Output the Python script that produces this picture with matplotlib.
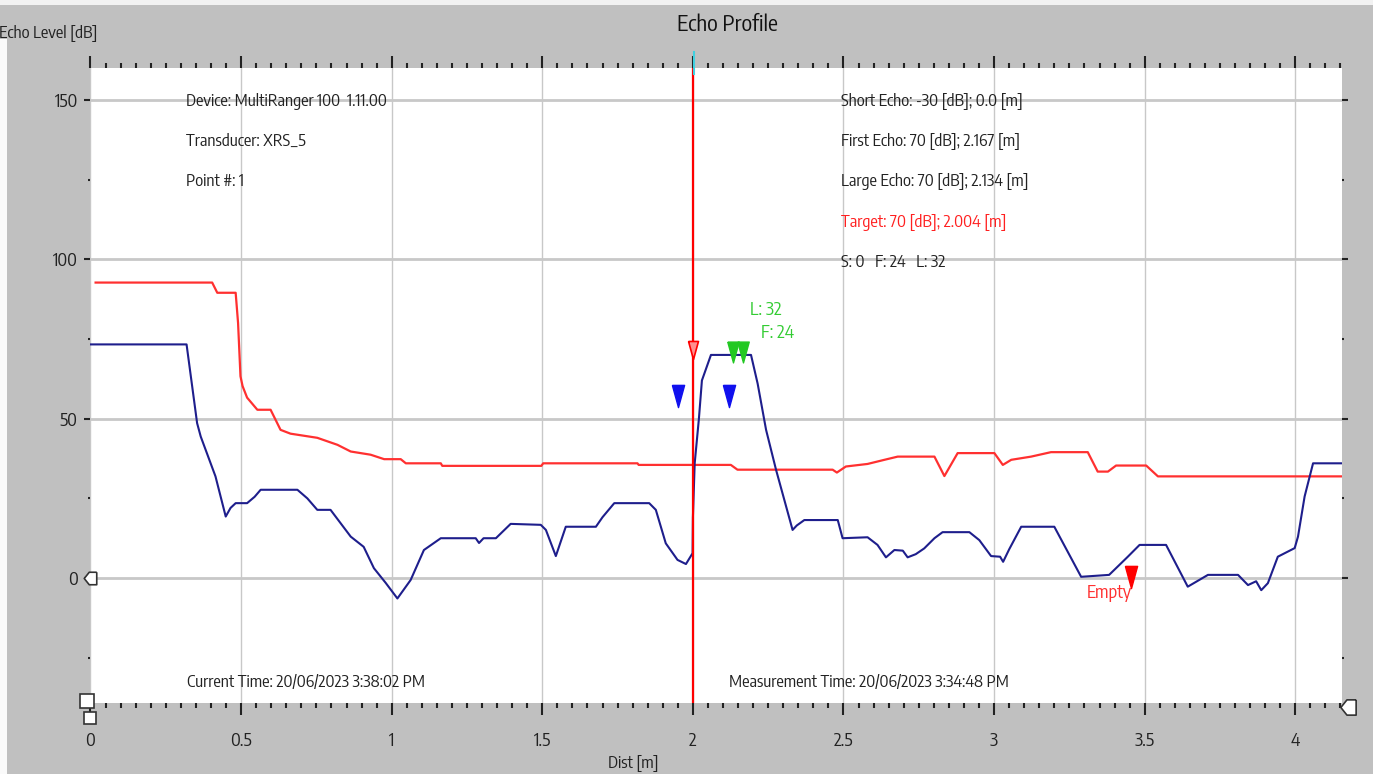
import numpy as np
import matplotlib
matplotlib.use("Agg")
import matplotlib.pyplot as plt
from matplotlib import font_manager

# echo profile (blue)
echo_dist = [0.0, 0.319, 0.354, 0.366, 0.415, 0.449, 0.465, 0.482, 0.52, 0.545,
             0.565, 0.687, 0.72, 0.753, 0.797, 0.864, 0.907, 0.941, 0.98, 1.019,
             1.063, 1.107, 1.163, 1.279, 1.29, 1.305, 1.346, 1.395, 1.495, 1.512,
             1.545, 1.578, 1.678, 1.7, 1.739, 1.855, 1.877, 1.91, 1.949, 1.977,
             1.999, 2.0, 2.006, 2.02, 2.03, 2.06, 2.193, 2.215, 2.243, 2.276,
             2.331, 2.345, 2.37, 2.481, 2.497, 2.58, 2.613, 2.641, 2.669, 2.697,
             2.713, 2.74, 2.768, 2.802, 2.829, 2.918, 2.951, 2.99, 3.02, 3.03,
             3.05, 3.09, 3.2, 3.289, 3.382, 3.444, 3.483, 3.571, 3.643, 3.71,
             3.81, 3.843, 3.87, 3.887, 3.909, 3.942, 3.998, 4.009, 4.031, 4.059,
             4.155]
echo_level = [73.3, 73.3, 48.6, 44.4, 31.9, 19.3, 22.0, 23.5, 23.5, 25.5,
              27.7, 27.7, 25.0, 21.4, 21.4, 13.0, 9.8, 3.1, -1.5, -6.4,
              -0.6, 8.8, 12.5, 12.5, 11.0, 12.5, 12.5, 17.0, 16.7, 15.1,
              6.9, 16.1, 16.1, 19.1, 23.5, 23.5, 21.4, 10.9, 5.7, 4.4,
              7.8, 18.9, 36.0, 50.0, 62.0, 70.0, 70.0, 61.0, 46.5, 34.0,
              15.1, 16.5, 18.2, 18.2, 12.5, 12.8, 10.4, 6.5, 8.8, 8.6,
              6.5, 7.5, 9.3, 12.5, 14.4, 14.4, 11.9, 6.9, 6.7, 5.1,
              9.0, 16.1, 16.1, 0.4, 1.0, 6.7, 10.4, 10.4, -2.7, 1.0,
              1.0, -2.2, -1.0, -3.8, -1.6, 6.7, 9.4, 13.0, 25.6, 36.0,
              36.0]

# TVT curve (red)
tvt_dist = [0.017, 0.404, 0.421, 0.482, 0.49, 0.498, 0.505, 0.52, 0.554, 0.598,
            0.631, 0.664, 0.753, 0.82, 0.864, 0.93, 0.975, 1.03, 1.047, 1.163,
            1.168, 1.497, 1.503, 1.816, 1.82, 2.126, 2.148, 2.464, 2.478, 2.508,
            2.58, 2.636, 2.68, 2.802, 2.835, 2.879, 3.001, 3.029, 3.057, 3.123,
            3.189, 3.311, 3.344, 3.378, 3.405, 3.505, 3.544, 4.155]
tvt_level = [92.7, 92.7, 89.5, 89.5, 80.0, 63.3, 60.2, 56.6, 52.8, 52.8,
             46.5, 45.3, 44.0, 41.8, 39.7, 38.7, 37.3, 37.3, 36.0, 36.0,
             35.2, 35.2, 36.0, 36.0, 35.5, 35.5, 34.0, 34.0, 33.1, 35.0,
             35.8, 37.1, 38.1, 38.1, 32.0, 39.2, 39.2, 35.5, 37.1, 38.1,
             39.5, 39.5, 33.4, 33.4, 35.3, 35.3, 31.9, 31.9]

target_dist, target_db = 2.004, 70
first_dist, large_dist, echo_db = 2.167, 2.134, 70
blue_marks = [1.951, 2.12]
empty_dist = 3.455

left_info = ["Device: MultiRanger 100  1.11.00", "Transducer: XRS_5", "Point #: 1"]
right_info = ["Short Echo: -30 [dB]; 0.0 [m]", "First Echo: 70 [dB]; 2.167 [m]",
              "Large Echo: 70 [dB]; 2.134 [m]", "Target: 70 [dB]; 2.004 [m]",
              "S: 0   F: 24   L: 32"]

# the screenshot uses a narrow sans font; take one if it is there
fam = "Liberation Sans"
fs = 10
for f in font_manager.fontManager.ttflist:
    if ("Narrow" in f.name or "Condensed" in f.name) and "Sans" in f.name:
        fam = f.name
        fs = 12
        break
plt.rcParams["font.family"] = [fam, "DejaVu Sans"]

gray = "#c0c0c0"
txt = "#222222"
fig = plt.figure(figsize=(13.73, 7.74), dpi=100, facecolor=gray)
ax = fig.add_axes([0.0659, 0.0917, 0.9115, 0.8204])
ax.set_facecolor("white")
for s in ax.spines.values():
    s.set_visible(False)

ax.set_xlim(0, 4.155)
ax.set_ylim(-39.2, 160)

xt = np.arange(0, 4.01, 0.5)
ax.set_xticks(xt)
ax.set_xticklabels(["0", "0.5", "1", "1.5", "2", "2.5", "3", "3.5", "4"])
ax.set_xticks(np.arange(0, 4.155, 0.05), minor=True)
ax.set_yticks([0, 50, 100, 150])
ax.set_yticks([-25, 25, 75, 125], minor=True)

ax.tick_params(axis="x", which="both", top=True, bottom=True, direction="out",
               colors=txt, labelsize=fs + 1, width=1.5)
ax.tick_params(axis="x", which="major", length=8.6, pad=12)
ax.tick_params(axis="x", which="minor", length=3.6)
ax.tick_params(axis="y", which="both", left=True, right=True, direction="out",
               colors=txt, labelsize=fs + 1, width=1.5)
ax.tick_params(axis="y", which="major", length=4.3, pad=5)
ax.tick_params(axis="y", which="minor", length=1.5)

ax.grid(axis="y", which="major", color="#c8c8c8", linewidth=2)
ax.grid(axis="x", which="major", color="#c8c8c8", linewidth=1)
ax.set_axisbelow(True)

ax.plot(tvt_dist, tvt_level, color="#ff3030", linewidth=1.6, zorder=3)
ax.plot(echo_dist, echo_level, color="#1e1e8c", linewidth=1.5, zorder=4)
# green piece at the start of the target echo
ax.plot([2.0, 2.0], [7.8, 18.9], color="#33dd55", linewidth=1.4, zorder=5)

ax.axvline(target_dist - 0.004, color="#ff0000", linewidth=1.6, zorder=6)
ax.plot([2.003, 2.003], [158, 165], color="#40d0e0", linewidth=1.5, clip_on=False, zorder=7)

tri = [(-0.55, 1), (0.55, 1), (0, -1), (-0.55, 1)]
ax.plot(blue_marks, [57, 57], linestyle="none", marker=tri, markersize=16,
        color="#1010ee", zorder=7)
ax.plot([large_dist, first_dist], [echo_db + 1, echo_db + 1], linestyle="none",
        marker=tri, markersize=15, color="#22c822", zorder=7)
ax.plot([target_dist - 0.004], [target_db + 1.5], linestyle="none", marker=tri,
        markersize=13, markerfacecolor="#ff9090", markeredgecolor="#ff0000",
        markeredgewidth=1.2, zorder=8)
ax.plot([empty_dist], [0.3], linestyle="none", marker=tri, markersize=16,
        color="#ff0000", zorder=7)
ax.text(empty_dist - 0.073, -4.7, "Empty", color="#ff3030", fontsize=fs + 1,
        ha="center", va="center", zorder=8)

ax.text(2.19, 84, "L: 32", color="#33cc33", fontsize=fs + 1, ha="left", va="center")
ax.text(2.225, 77, "F: 24", color="#33cc33", fontsize=fs + 1, ha="left", va="center")

for i, s in enumerate(left_info):
    ax.text(0.0766, 0.948 - i * 0.0635, s, transform=ax.transAxes, fontsize=fs,
            color=txt, va="center", ha="left")
for i, s in enumerate(right_info):
    c = "#ff2020" if s.startswith("Target") else txt
    ax.text(0.600, 0.948 - i * 0.0635, s, transform=ax.transAxes, fontsize=fs,
            color=c, va="center", ha="left")
ax.text(0.0774, 0.033, "Current Time: 20/06/2023 3:38:02 PM", transform=ax.transAxes,
        fontsize=fs, color=txt, va="center", ha="left")
ax.text(0.5104, 0.033, "Measurement Time: 20/06/2023 3:34:48 PM", transform=ax.transAxes,
        fontsize=fs, color=txt, va="center", ha="left")

# slider handles
handle = [(1, 1), (-0.2, 1), (-1, 0), (-0.2, -1), (1, -1), (1, 1)]
ax.plot([-0.001], [0], marker=handle, markersize=9, markerfacecolor="white",
        markeredgecolor="#333333", markeredgewidth=1.2, linestyle="none", clip_on=False, zorder=9)
ax.plot([4.175], [-40.5], marker=handle, markersize=11, markerfacecolor="white",
        markeredgecolor="#333333", markeredgewidth=1.2, linestyle="none", clip_on=False, zorder=9)
ax.plot([-0.012], [-38.5], marker="s", markersize=10, markerfacecolor="white",
        markeredgecolor="#333333", markeredgewidth=1.2, linestyle="none", clip_on=False, zorder=9)
ax.plot([-0.002], [-44], marker="s", markersize=8, markerfacecolor="white",
        markeredgecolor="#333333", markeredgewidth=1.2, linestyle="none", clip_on=False, zorder=9)

fig.text(0.530, 0.968, "Echo Profile", fontsize=fs + 4, color="#111111",
         ha="center", va="center")
fig.text(0.0707, 0.957, "Echo Level [dB]", fontsize=fs, color=txt, ha="right", va="center")
fig.text(0.461, 0.014, "Dist [m]", fontsize=fs, color=txt, ha="center", va="center")

# light strips at the screenshot edges
fig.patches.append(plt.Rectangle((0, 0.993), 1, 0.007, transform=fig.transFigure,
                                 facecolor="#f2f2f2", edgecolor="none", zorder=0))
fig.patches.append(plt.Rectangle((0, 0), 0.005, 0.95, transform=fig.transFigure,
                                 facecolor="#fafafa", edgecolor="none", zorder=0))

fig.savefig("out.png", dpi=100, facecolor=gray)
